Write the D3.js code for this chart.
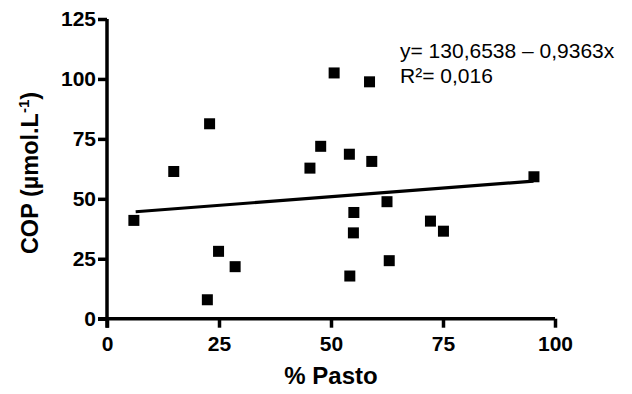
<!DOCTYPE html>
<html>
<head>
<meta charset="utf-8">
<script src="https://cdn.jsdelivr.net/npm/d3@7"></script>
<style>
  html, body { margin: 0; padding: 0; background: #fff; }
  svg { display: block; font-family: "Liberation Sans", Arial, sans-serif; }
</style>
</head>
<body>
<svg id="chart" width="632" height="394"></svg>
<script>
// % Pasto (x) and COP in µmol.L-1 (y) for each sample
const pasto = [6.0, 14.9, 22.9, 22.4, 24.9, 28.6, 45.3, 47.7, 50.7, 58.6, 54.1, 59.1, 95.3, 62.5, 55.1, 55.0, 72.2, 75.1, 63.0, 54.2];
const cop   = [41.0, 61.4, 81.3, 7.9, 28.1, 21.7, 62.8, 71.9, 102.5, 98.8, 68.6, 65.6, 59.2, 48.8, 44.3, 35.8, 40.7, 36.5, 24.2, 17.8];

// fitted line drawn over the observed x range
const fitX = [6.4, 95.2];
const fitY = [44.6, 57.4];

const xTicks = [0, 25, 50, 75, 100];
const yTicks = [0, 25, 50, 75, 100, 125];

const eqLines = ["y= 130,6538 \u2013 0,9363x", "R\u00b2= 0,016"];

const svg = d3.select("#chart");

const x = d3.scaleLinear().domain([0, 100]).range([107, 555]);
const y = d3.scaleLinear().domain([0, 125]).range([318.7, 19]);

// axes
const xAxis = svg.append("g")
  .attr("transform", `translate(0,${y(0)})`)
  .call(d3.axisBottom(x).tickValues(xTicks).tickSize(9).tickPadding(8).tickSizeOuter(0));
const yAxis = svg.append("g")
  .attr("transform", `translate(${x(0)},0)`)
  .call(d3.axisLeft(y).tickValues(yTicks).tickSize(9).tickPadding(2).tickSizeOuter(0));

[xAxis, yAxis].forEach(g => {
  g.select(".domain").attr("stroke", "#000").attr("stroke-width", 3.5);
  g.selectAll(".tick line").attr("stroke", "#000").attr("stroke-width", 3.5);
  g.selectAll(".tick text")
    .attr("fill", "#000")
    .style("font-family", "'Liberation Sans', Arial, sans-serif")
    .style("font-weight", "bold")
    .style("font-size", "21px");
});
// extend the axis lines through the crossing so the corner is closed
xAxis.select(".domain").attr("d", `M${x(0) - 9},0H${x(100)}`);
yAxis.select(".domain").attr("d", `M0,${y(0) + 9}V${y(125)}`);

// regression line
svg.append("line")
  .attr("x1", x(fitX[0])).attr("y1", y(fitY[0]))
  .attr("x2", x(fitX[1])).attr("y2", y(fitY[1]))
  .attr("stroke", "#000").attr("stroke-width", 3.2);

// data points as filled squares
const s = 11;
svg.append("g").selectAll("rect")
  .data(pasto.map((p, i) => [p, cop[i]]))
  .join("rect")
  .attr("x", d => x(d[0]) - s / 2)
  .attr("y", d => y(d[1]) - s / 2)
  .attr("width", s).attr("height", s)
  .attr("fill", "#000");

// axis titles
svg.append("text")
  .attr("x", 331).attr("y", 384)
  .attr("text-anchor", "middle")
  .style("font-weight", "bold").style("font-size", "24px")
  .text("% Pasto");

const yt = svg.append("text")
  .attr("transform", "translate(38,173) rotate(-90)")
  .attr("text-anchor", "middle")
  .style("font-weight", "bold").style("font-size", "23.5px");
yt.append("tspan").text("COP (\u00b5mol.L");
yt.append("tspan").attr("dy", -9).style("font-size", "15px").text("-1");
yt.append("tspan").attr("dy", 9).text(")");

// equation and R²
svg.append("g").selectAll("text")
  .data(eqLines)
  .join("text")
  .attr("x", 400)
  .attr("y", (d, i) => 58 + i * 25)
  .style("font-size", "21px")
  .text(d => d);
</script>
</body>
</html>
